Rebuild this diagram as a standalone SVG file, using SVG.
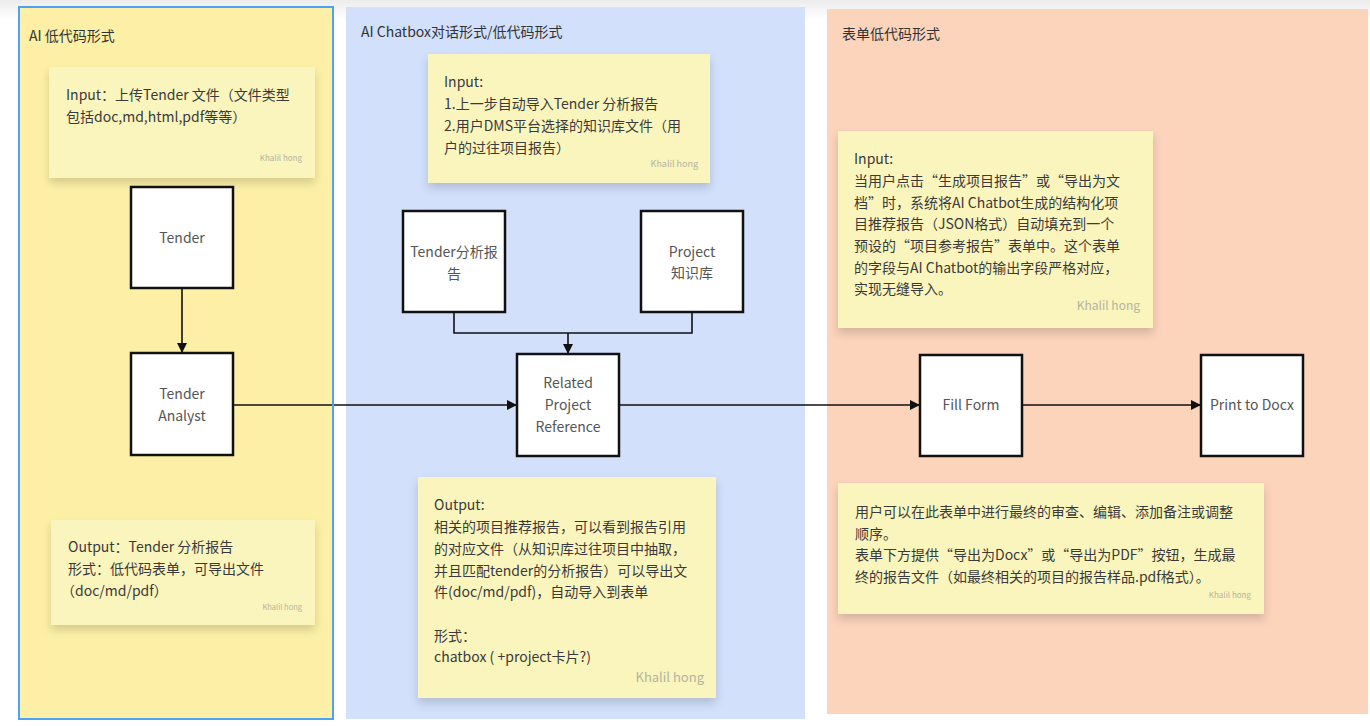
<svg xmlns="http://www.w3.org/2000/svg" width="1370" height="726" viewBox="0 0 1370 726">
  <defs>
    <linearGradient id="topHaze" x1="0" y1="0" x2="0" y2="1">
      <stop offset="0" stop-color="#ececec"/>
      <stop offset="1" stop-color="#ffffff"/>
    </linearGradient>
    <filter id="noteShadow" x="-10%" y="-10%" width="120%" height="130%">
      <feDropShadow dx="0" dy="5" stdDeviation="5" flood-color="#000" flood-opacity="0.16"/>
    </filter>
    <marker id="arrow" viewBox="0 0 10 10" refX="10" refY="5" markerWidth="10" markerHeight="10" markerUnits="userSpaceOnUse" orient="auto">
      <path d="M0,0 L10,5 L0,10 z" fill="#111"/>
    </marker>
    <style>
      .txt { font-family: "Noto Sans CJK SC", "Noto Sans", sans-serif; font-size: 14px; fill: #3a3a3a; }
      .title { font-family: "Noto Sans CJK SC", "Noto Sans", sans-serif; font-size: 14px; fill: #333; }
      .sig { font-family: "Noto Sans CJK SC", "Noto Sans", sans-serif; fill: #b5b3a0; text-anchor: end; }
      .note { fill: #faf5bd; filter: url(#noteShadow); }
      .node rect { fill: #ffffff; stroke: #111; stroke-width: 2.5; }
      .node text { font-family: "Noto Sans CJK SC", "Noto Sans", sans-serif; font-size: 14px; fill: #555; text-anchor: middle; }
      .conn { fill: none; stroke: #111; stroke-width: 1.6; }
    </style>
  </defs>

  <!-- canvas -->
  <rect x="0" y="0" width="1370" height="726" fill="#ffffff"/>
  <rect x="0" y="0" width="1370" height="20" fill="url(#topHaze)"/>

  <!-- frames -->
  <g id="frame-lowcode">
    <rect x="19" y="7" width="314" height="712" fill="#fdf0a6"/>
    <text class="title" x="29" y="41">AI 低代码形式</text>
  </g>
  <g id="frame-chatbox">
    <rect x="346" y="7" width="459" height="712" fill="#d2e0fc"/>
    <text class="title" x="361" y="37">AI Chatbox对话形式/低代码形式</text>
  </g>
  <g id="frame-form">
    <rect x="827" y="9" width="541" height="705" fill="#fcd3bb"/>
    <text class="title" x="842" y="39">表单低代码形式</text>
  </g>

  <!-- sticky notes -->
  <g id="note-input-tender">
    <rect class="note" x="49" y="67" width="266" height="111"/>
    <text class="txt" x="66" y="100">Input：上传Tender 文件（文件类型</text>
    <text class="txt" x="66" y="122">包括doc,md,html,pdf等等）</text>
    <text class="sig" x="302" y="161" font-size="8">Khalil hong</text>
  </g>
  <g id="note-input-chatbox">
    <rect class="note" x="428" y="54" width="282" height="129"/>
    <text class="txt" x="444" y="87">Input:</text>
    <text class="txt" x="444" y="109">1.上一步自动导入Tender 分析报告</text>
    <text class="txt" x="444" y="131">2.用户DMS平台选择的知识库文件（用</text>
    <text class="txt" x="444" y="153">户的过往项目报告）</text>
    <text class="sig" x="698" y="167" font-size="9">Khalil hong</text>
  </g>
  <g id="note-input-form">
    <rect class="note" x="838" y="131" width="315" height="197"/>
    <text class="txt" x="854" y="164">Input:</text>
    <text class="txt" x="854" y="186">当用户点击“生成项目报告”或“导出为文</text>
    <text class="txt" x="854" y="207.5">档”时，系统将AI Chatbot生成的结构化项</text>
    <text class="txt" x="854" y="229">目推荐报告（JSON格式）自动填充到一个</text>
    <text class="txt" x="854" y="251">预设的“项目参考报告”表单中。这个表单</text>
    <text class="txt" x="854" y="272.5">的字段与AI Chatbot的输出字段严格对应，</text>
    <text class="txt" x="854" y="294">实现无缝导入。</text>
    <text class="sig" x="1140" y="310" font-size="12">Khalil hong</text>
  </g>
  <g id="note-output-tender">
    <rect class="note" x="51" y="520" width="264" height="105"/>
    <text class="txt" x="68" y="552">Output：Tender 分析报告</text>
    <text class="txt" x="68" y="574">形式：低代码表单，可导出文件</text>
    <text class="txt" x="61" y="596">（doc/md/pdf）</text>
    <text class="sig" x="302" y="610" font-size="7.5">Khalil hong</text>
  </g>
  <g id="note-output-chatbox">
    <rect class="note" x="418" y="477" width="298" height="221"/>
    <text class="txt" x="434" y="510">Output:</text>
    <text class="txt" x="434" y="532">相关的项目推荐报告，可以看到报告引用</text>
    <text class="txt" x="434" y="554">的对应文件（从知识库过往项目中抽取，</text>
    <text class="txt" x="434" y="576">并且匹配tender的分析报告）可以导出文</text>
    <text class="txt" x="434" y="597">件(doc/md/pdf)，自动导入到表单</text>
    <text class="txt" x="434" y="641">形式：</text>
    <text class="txt" x="434" y="662">chatbox ( +project卡片?)</text>
    <text class="sig" x="704" y="682" font-size="13">Khalil hong</text>
  </g>
  <g id="note-output-form">
    <rect class="note" x="838" y="483" width="426" height="131"/>
    <text class="txt" x="855" y="517">用户可以在此表单中进行最终的审查、编辑、添加备注或调整</text>
    <text class="txt" x="855" y="538.5">顺序。</text>
    <text class="txt" x="855" y="560">表单下方提供“导出为Docx”或“导出为PDF”按钮，生成最</text>
    <text class="txt" x="855" y="581.5">终的报告文件（如最终相关的项目的报告样品.pdf格式）。</text>
    <text class="sig" x="1251" y="598" font-size="8">Khalil hong</text>
  </g>

  <!-- connectors -->
  <g id="connectors">
    <path class="conn" d="M182,288 L182,353" marker-end="url(#arrow)"/>
    <path class="conn" d="M233,405 L517,405" marker-end="url(#arrow)"/>
    <path class="conn" d="M454,312 L454,333 L692,333 L692,312"/>
    <path class="conn" d="M568,333 L568,354" marker-end="url(#arrow)"/>
    <path class="conn" d="M619,405 L920,405" marker-end="url(#arrow)"/>
    <path class="conn" d="M1022,405 L1201,405" marker-end="url(#arrow)"/>
  </g>

  <!-- selection outline of the first frame -->
  <rect x="19" y="7" width="314" height="712" fill="none" stroke="#4ba3f3" stroke-width="2"/>

  <!-- nodes -->
  <g id="node-tender" class="node">
    <rect x="131" y="187" width="102" height="101"/>
    <text x="182" y="243">Tender</text>
  </g>
  <g id="node-tender-analyst" class="node">
    <rect x="131" y="353" width="102" height="102"/>
    <text x="182" y="399">Tender</text>
    <text x="182" y="421">Analyst</text>
  </g>
  <g id="node-tender-report" class="node">
    <rect x="403" y="211" width="102" height="101"/>
    <text x="454" y="257">Tender分析报</text>
    <text x="454" y="279">告</text>
  </g>
  <g id="node-project-kb" class="node">
    <rect x="641" y="211" width="102" height="101"/>
    <text x="692" y="257">Project</text>
    <text x="692" y="278">知识库</text>
  </g>
  <g id="node-related-reference" class="node">
    <rect x="517" y="354" width="102" height="102"/>
    <text x="568" y="388">Related</text>
    <text x="568" y="410">Project</text>
    <text x="568" y="432">Reference</text>
  </g>
  <g id="node-fill-form" class="node">
    <rect x="920" y="355" width="102" height="101"/>
    <text x="971" y="410">Fill Form</text>
  </g>
  <g id="node-print-docx" class="node">
    <rect x="1201" y="355" width="102" height="101"/>
    <text x="1252" y="410">Print to Docx</text>
  </g>
</svg>
